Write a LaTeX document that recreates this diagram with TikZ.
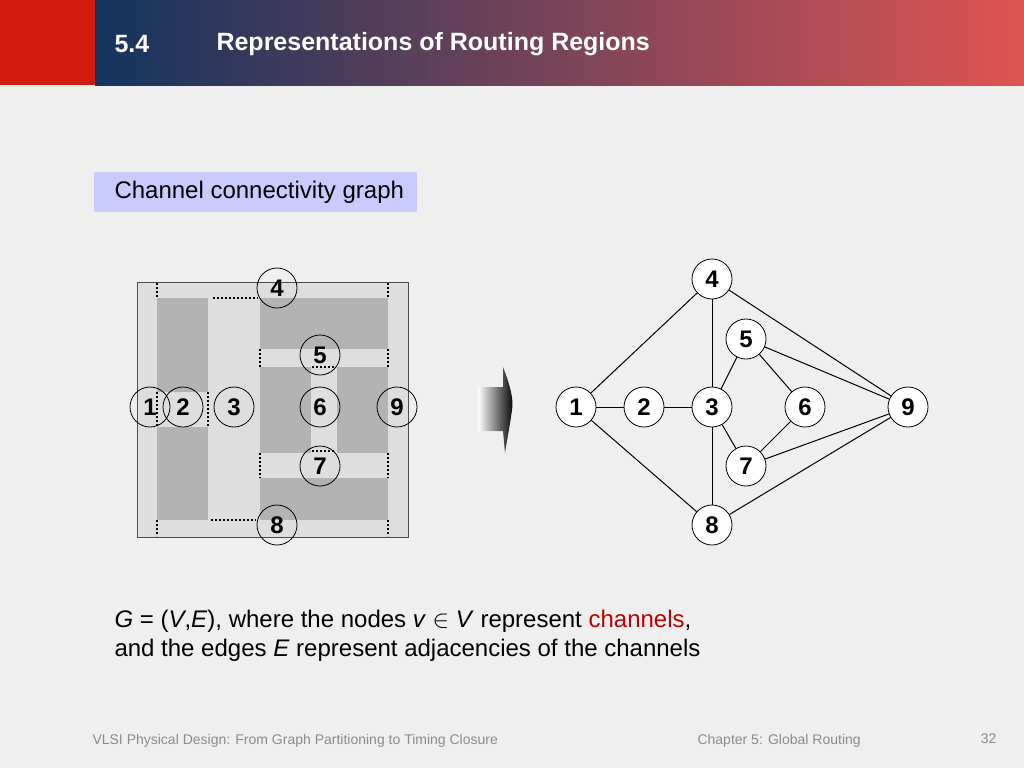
\documentclass[tikz,border=0pt]{standalone}
\usepackage{fontspec}
\setmainfont{Liberation Sans}
\usetikzlibrary{shadings}
\definecolor{hdrred}{HTML}{D01C0C}
\definecolor{hdrblue}{HTML}{13345E}
\definecolor{hdrpink}{HTML}{DF5453}
\definecolor{pagebg}{HTML}{EFEFEF}
\definecolor{chanlight}{HTML}{DEDEDE}
\definecolor{blockdark}{HTML}{B3B3B3}
\definecolor{labelbox}{HTML}{C9CBFD}
\definecolor{chred}{HTML}{C00000}
\newcommand{\blk}[4]{\fill[blockdark] ( #1 , #2 ) rectangle ( #3 , #4 );}
\newcommand{\vdot}[3]{\draw[dots] ( #1 , #2 ) -- ( #1 , #3 );}
\newcommand{\hdot}[3]{\draw[dots] ( #2 , #1 ) -- ( #3 , #1 );}
\tikzset{
  chan/.style={circle, draw=black, thick, minimum size=40pt, inner sep=0pt, font=\fontsize{24}{24}\selectfont\bfseries},
  vert/.style={circle, draw=black, fill=white, thick, minimum size=40pt, inner sep=0pt, font=\fontsize{24}{24}\selectfont\bfseries},
  dots/.style={line width=2pt, dash pattern=on 2pt off 2pt},
  edge/.style={draw=black, line width=1pt}
}
\begin{document}
\begin{tikzpicture}[x=1pt,y=-1pt]
        \useasboundingbox (0,0) rectangle (1024,768);
        \fill[pagebg] (0,0) rectangle (1024,768);
        % header
        \fill[hdrred] (0,0) rectangle (95,85);
        \shade[left color=hdrblue, right color=hdrpink, middle color=hdrblue!50!hdrpink] (95,0) rectangle (1024,85);
        \node[anchor=west, text=white, font=\fontsize{25}{25}\selectfont\bfseries] (secno) at (111,44) {5.4};
        \node[anchor=west, text=white, font=\fontsize{25}{25}\selectfont\bfseries] (title) at (213,44) {Representations of Routing Regions};

        % label
        \fill[labelbox] (94,172) rectangle (417,212);
        \node[anchor=west, font=\fontsize{24}{24}\selectfont] (lbl) at (111,192) {Channel connectivity graph};

        % layout
        \draw[fill=chanlight, draw=black!70] (137,282) rectangle (408,537);
        \blk{157}{298}{208}{392}
        \blk{157}{427}{208}{520}
        \blk{260}{298}{388}{349}
        \blk{260}{367}{311}{453}
        \blk{337}{367}{388}{453}
        \blk{260}{478}{388}{520}
        \vdot{157}{283}{298} \vdot{388}{283}{298}
        \vdot{157}{520}{536} \vdot{388}{520}{536}
        \hdot{298}{213}{258} \hdot{520}{211}{256}
        \vdot{260}{349}{367} \vdot{388}{349}{367}
        \vdot{260}{453}{478} \vdot{388}{453}{478}
        \hdot{367}{312}{335} \hdot{451}{312}{335}
        \vdot{157}{392}{427} \vdot{208}{392}{427}

        \node[chan] (c1) at (150,407) {1};
        \node[chan] (c2) at (183,407) {2};
        \node[chan] (c3) at (234,407) {3};
        \node[chan] (c4) at (277,288) {4};
        \node[chan] (c5) at (320,355) {5};
        \node[chan] (c6) at (320,407) {6};
        \node[chan] (c7) at (320,466) {7};
        \node[chan] (c8) at (277,525) {8};
        \node[chan] (c9) at (397,407) {9};

        % arrow
        \shade[left color=white, right color=black] (478,387) -- (503,387) -- (503,367) .. controls (510,385) and (514,400) .. (512,410) .. controls (510,425) and (507,440) .. (505,453) -- (503,431) -- (478,431) -- cycle;

        % graph
        \node[vert] (v1) at (576,407) {1};
        \node[vert] (v2) at (644,407) {2};
        \node[vert] (v3) at (712,407) {3};
        \node[vert] (v4) at (712,279) {4};
        \node[vert] (v5) at (746,339) {5};
        \node[vert] (v6) at (805,407) {6};
        \node[vert] (v7) at (746,466) {7};
        \node[vert] (v8) at (712,525) {8};
        \node[vert] (v9) at (908,407) {9};
        \foreach \a/\b in {v1/v2,v2/v3,v1/v4,v1/v8,v3/v4,v3/v8,v3/v5,v3/v7,v4/v9,v5/v9,v5/v6,v6/v7,v7/v9,v8/v9}
          \draw[edge] (\a) -- (\b);

        % caption
        \node[anchor=west, font=\fontsize{24}{24}\selectfont] (cap1) at (111,621) {\textit{G} = (\textit{V},\textit{E}), where the nodes \textit{v} $\in$ \textit{V} represent \textcolor{chred}{channels},};
        \node[anchor=west, font=\fontsize{24}{24}\selectfont] (cap2) at (111,650) {and the edges \textit{E} represent adjacencies of the channels};

        % footer
        \node[anchor=west, text=black!45, font=\fontsize{14}{14}\selectfont] (foot1) at (89,741) {VLSI Physical Design: From Graph Partitioning to Timing Closure};
        \node[anchor=west, text=black!45, font=\fontsize{14}{14}\selectfont] (foot2) at (694,741) {Chapter 5: Global Routing};
        \node[anchor=east, text=black!45, font=\fontsize{14}{14}\selectfont] (pg) at (1000,739) {32};
\end{tikzpicture}
\end{document}
